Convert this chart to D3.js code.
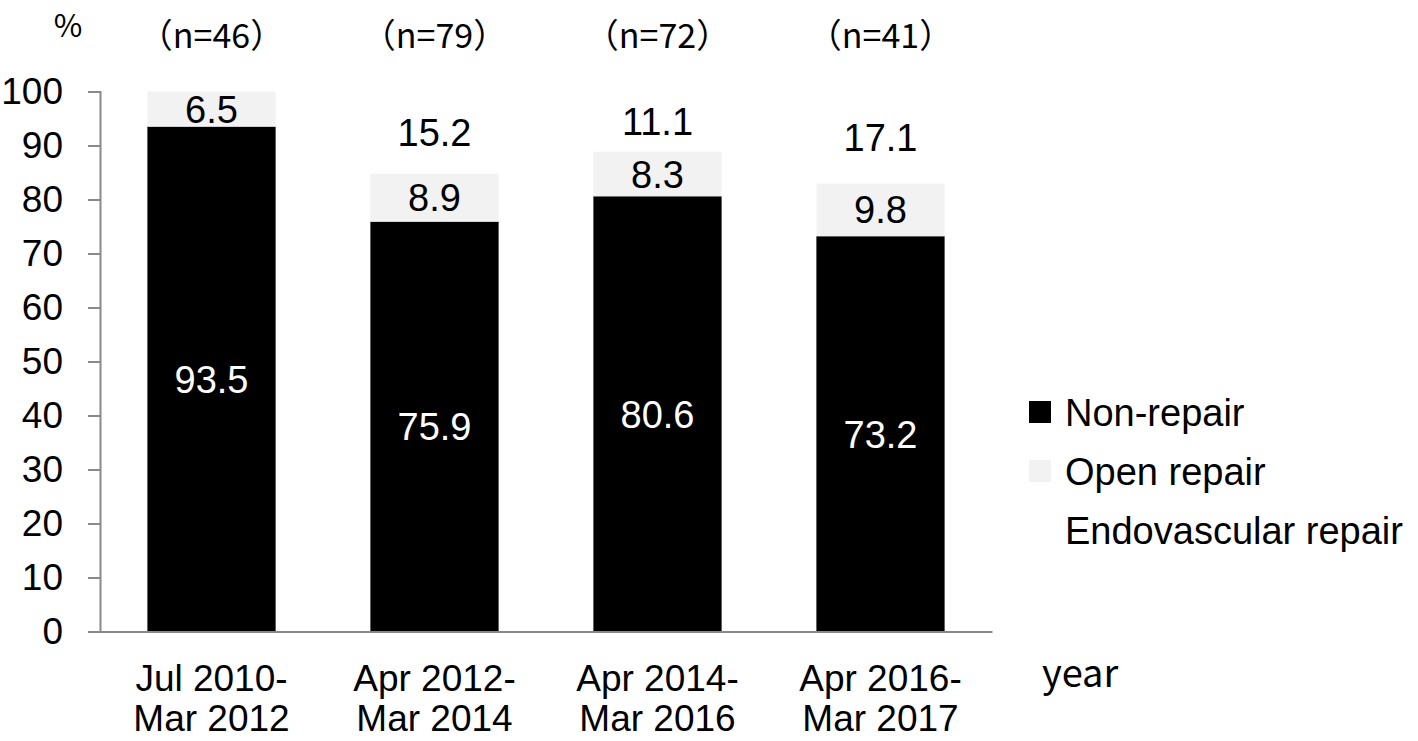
<!DOCTYPE html>
<html>
<head>
<meta charset="utf-8">
<script src="https://cdn.jsdelivr.net/npm/d3@7"></script>
<style>
  body { margin: 0; background: #fff; }
  svg { display: block; }
  text { font-family: "Liberation Sans", Arial, sans-serif; }
  .jp { font-family: "Noto Sans CJK JP", sans-serif; }
</style>
</head>
<body>
<svg id="chart"></svg>
<script>
// periods on the x axis (two lines each)
const periods = ["Jul 2010-|Mar 2012", "Apr 2012-|Mar 2014", "Apr 2014-|Mar 2016", "Apr 2016-|Mar 2017"];
const counts = [46, 79, 72, 41];
const seriesNames = ["Non-repair", "Open repair", "Endovascular repair"];
const nonRepair = [93.5, 75.9, 80.6, 73.2];
const openRepair = [6.5, 8.9, 8.3, 9.8];
const endoRepair = [0, 15.2, 11.1, 17.1];
const yTicks = [0, 10, 20, 30, 40, 50, 60, 70, 80, 90, 100];

const colors = ["#000000", "#f2f2f2", "#ffffff"];
const labelColors = ["#ffffff", "#000000", "#000000"];

const width = 1418, height = 741;
const margin = { top: 91.5, right: 426, bottom: 109.5, left: 100 };
const innerW = width - margin.left - margin.right;
const innerH = height - margin.top - margin.bottom;

const rows = periods.map((p, i) => ({
  period: p,
  "Non-repair": nonRepair[i],
  "Open repair": openRepair[i],
  "Endovascular repair": endoRepair[i]
}));

const stacked = d3.stack().keys(seriesNames)(rows);

const svg = d3.select("#chart")
  .attr("width", width)
  .attr("height", height);

const chart = svg.append("g")
  .attr("transform", `translate(${margin.left}, ${margin.top})`);

const xScale = d3.scaleBand()
  .domain(periods)
  .range([0, innerW])
  .paddingInner(0.425)
  .paddingOuter(0.2125);

const yScale = d3.scaleLinear()
  .domain([0, 100])
  .range([innerH, 0]);

// bars
const layers = chart.selectAll(".layer")
  .data(stacked)
  .enter().append("g")
  .attr("class", "layer")
  .attr("fill", (d, i) => colors[i]);

layers.selectAll("rect")
  .data(d => d)
  .enter().append("rect")
  .attr("x", d => xScale(d.data.period))
  .attr("y", d => yScale(d[1]))
  .attr("width", xScale.bandwidth())
  .attr("height", d => yScale(d[0]) - yScale(d[1]));

// value labels
stacked.forEach((layer, li) => {
  chart.append("g")
    .selectAll("text")
    .data(layer.filter(d => d[1] - d[0] > 0))
    .enter().append("text")
    .attr("x", d => xScale(d.data.period) + xScale.bandwidth() / 2)
    .attr("y", d => yScale((d[0] + d[1]) / 2))
    .attr("dy", "0.36em")
    .attr("text-anchor", "middle")
    .attr("font-size", 38)
    .attr("fill", labelColors[li])
    .text(d => (d[1] - d[0]).toFixed(1));
});

// y axis
const yAxis = chart.append("g")
  .call(d3.axisLeft(yScale).tickValues(yTicks).tickSize(12).tickPadding(25));
yAxis.select(".domain").attr("stroke", "#898989").attr("stroke-width", 2);
yAxis.selectAll(".tick line").attr("stroke", "#898989").attr("stroke-width", 2);
yAxis.selectAll(".tick text")
  .attr("font-size", 37)
  .attr("fill", "#000")
  .attr("font-family", "Liberation Sans, Arial, sans-serif");

// x axis
const xAxis = chart.append("g")
  .attr("transform", `translate(0, ${innerH})`)
  .call(d3.axisBottom(xScale).tickSize(0).tickFormat(""));
xAxis.select(".domain").attr("stroke", "#898989").attr("stroke-width", 2);
xAxis.selectAll(".tick").each(function (p) {
  const t = d3.select(this).append("text")
    .attr("text-anchor", "middle")
    .attr("font-size", 37)
    .attr("fill", "#000");
  p.split("|").forEach((line, k) => {
    t.append("tspan").attr("x", 0).attr("y", 59 + k * 40).text(line);
  });
});

// n labels on top
chart.append("g")
  .selectAll("text")
  .data(counts)
  .enter().append("text")
  .attr("class", "jp")
  .attr("x", (d, i) => xScale(periods[i]) + xScale.bandwidth() / 2)
  .attr("y", -44)
  .attr("text-anchor", "middle")
  .attr("font-size", 34)
  .text(d => `（n=${d}）`);

// unit labels
svg.append("text").attr("class", "jp")
  .attr("x", 68).attr("y", 37)
  .attr("text-anchor", "middle")
  .attr("font-size", 31)
  .text("%");

svg.append("text").attr("class", "jp")
  .attr("x", 1042).attr("y", 687)
  .attr("font-size", 38)
  .text("year");

// legend
const legend = svg.append("g")
  .attr("transform", "translate(1029, 0)");
seriesNames.forEach((name, i) => {
  const cy = 412 + i * 59;
  legend.append("rect")
    .attr("x", 0).attr("y", cy - 11)
    .attr("width", 22).attr("height", 22)
    .attr("fill", colors[i]);
  legend.append("text")
    .attr("x", 36).attr("y", cy)
    .attr("dy", "0.36em")
    .attr("font-size", 38)
    .text(name);
});
</script>
</body>
</html>
